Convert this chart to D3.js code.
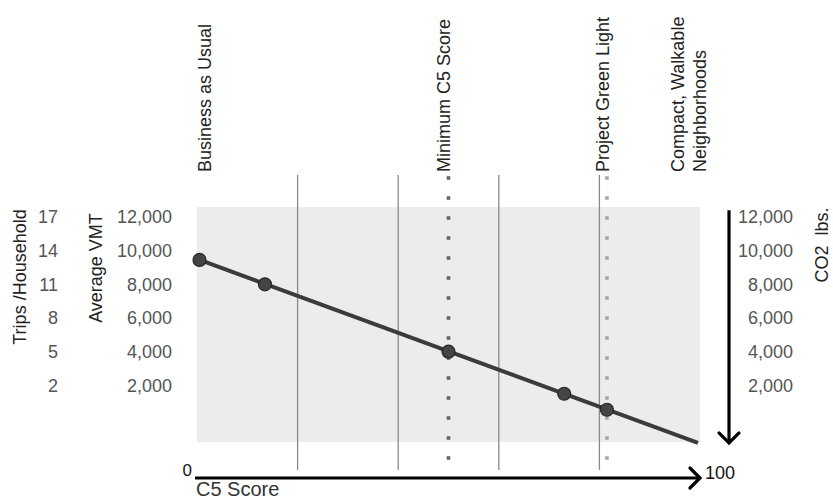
<!DOCTYPE html>
<html><head><meta charset="utf-8">
<script src="https://cdn.jsdelivr.net/npm/d3@7"></script>
<style>
html,body{margin:0;padding:0;background:#fff;}
svg{display:block;font-family:"Liberation Sans",Arial,sans-serif;}
</style></head>
<body>
<svg id="c" width="833" height="501"></svg>
<script>
// ---- data ----
const vmtTicks = [12000, 10000, 8000, 6000, 4000, 2000];
const tripTicks = [17, 14, 11, 8, 5, 2];
const co2Ticks = [12000, 10000, 8000, 6000, 4000, 2000];
const pointC5 = [0.5, 13.5, 50, 73, 81.5];
const pointVMT = [9450, 8000, 4000, 1500, 550];
const lineC5 = [0.4, 99.6];
const lineVMT = [9470, -1420];
const gridC5 = [20, 40, 60, 80];
const markerC5 = [50, 81.5];
const markerShade = ["#666666", "#a8a8a8"];
const scenarioLabels = [["Business as Usual"], ["Minimum C5 Score"], ["Project Green Light"], ["Compact, Walkable", "Neighborhoods"]];
const scenarioC5 = [1.5, 49, 80.7, 95.5];

// ---- scales ----
const svg = d3.select("#c");
const x = d3.scaleLinear().domain([0, 100]).range([197, 700]);
const y = d3.scaleLinear().domain([0, 12000]).range([419, 217]);
const yTrips = d3.scaleLinear().domain([-1, 17]).range([419, 217]);

// plot background
svg.append("rect").attr("x", x(0)).attr("y", y(12600))
  .attr("width", x(100) - x(0)).attr("height", y(-1370) - y(12600))
  .attr("fill", "#ececec");

// solid vertical lines
svg.selectAll("line.grid").data(gridC5).join("line").attr("class", "grid")
  .attr("x1", d => x(d)).attr("x2", d => x(d))
  .attr("y1", 175).attr("y2", 470)
  .attr("stroke", "#8a8a8a").attr("stroke-width", 1.3);

// dotted marker lines
markerC5.forEach((c, i) => {
  const dots = d3.range(15).map(k => 178 + k * 20);
  svg.append("g").selectAll("rect").data(dots).join("rect")
    .attr("x", x(c) - 1.8).attr("y", d => d - 1.8)
    .attr("width", 3.6).attr("height", 3.6)
    .attr("fill", markerShade[i]);
});

// trend line
const lineData = lineC5.map((c, i) => [c, lineVMT[i]]);
svg.append("path").datum(lineData)
  .attr("d", d3.line().x(d => x(d[0])).y(d => y(d[1])))
  .attr("fill", "none").attr("stroke", "#3b3b3b").attr("stroke-width", 4);

// points
svg.selectAll("circle.pt").data(pointC5.map((c, i) => [c, pointVMT[i]])).join("circle")
  .attr("class", "pt")
  .attr("cx", d => x(d[0])).attr("cy", d => y(d[1])).attr("r", 6.5)
  .attr("fill", "#454545").attr("stroke", "#262626").attr("stroke-width", 1.2);

// axes labels (no lines)
function styleAxis(g) {
  g.select(".domain").remove();
  g.selectAll(".tick line").remove();
  g.selectAll("text").attr("font-size", 18).attr("fill", "#555")
    .attr("font-family", "Liberation Sans, Arial, sans-serif");
}
svg.append("g").attr("transform", "translate(175,0)")
  .call(d3.axisLeft(y).tickValues(vmtTicks).tickSize(0).tickPadding(3).tickFormat(d3.format(",")))
  .call(styleAxis);
svg.append("g").attr("transform", "translate(61,0)")
  .call(d3.axisLeft(yTrips).tickValues(tripTicks).tickSize(0).tickPadding(3).tickFormat(d3.format("d")))
  .call(styleAxis);
svg.append("g").attr("transform", "translate(796,0)")
  .call(d3.axisLeft(y).tickValues(co2Ticks).tickSize(0).tickPadding(3).tickFormat(d3.format(",")))
  .call(styleAxis);

// axis titles
function vTitle(txt, cx, cy) {
  svg.append("text").attr("transform", `translate(${cx},${cy}) rotate(-90)`)
    .attr("text-anchor", "middle").attr("dy", "0.35em")
    .attr("font-size", 18).attr("fill", "#222").style("white-space", "pre").text(txt);
}
vTitle("Trips /Household", 20, 277);
vTitle("Average VMT", 96, 268);
vTitle("CO2  lbs.", 822, 245);

// scenario labels (rotated, reading upward, bottom end at y=172)
scenarioLabels.forEach((lines, i) => {
  const t = svg.append("text")
    .attr("transform", `translate(${x(scenarioC5[i])},172) rotate(-90)`)
    .attr("text-anchor", "start").attr("font-size", 18).attr("fill", "#222");
  lines.forEach((l, j) => {
    t.append("tspan").attr("x", 0).attr("dy", j === 0 ? "0.35em" : "1.25em").text(l);
  });
});

// bottom arrow axis
const ay = 478;
svg.append("line").attr("x1", x(0) - 2).attr("x2", x(100)).attr("y1", ay).attr("y2", ay)
  .attr("stroke", "#000").attr("stroke-width", 3.2);
svg.append("path").attr("d", `M${x(100) - 10},${ay - 10}L${x(100)},${ay}L${x(100) - 10},${ay + 10}`)
  .attr("fill", "none").attr("stroke", "#000").attr("stroke-width", 3.2).attr("stroke-linecap", "round");
svg.append("text").attr("x", x(0) - 5).attr("y", 476).attr("text-anchor", "end")
  .attr("font-size", 17).attr("fill", "#111").text("0");
svg.append("text").attr("x", x(100) + 5).attr("y", 479)
  .attr("font-size", 18).attr("fill", "#111").text("100");
svg.append("text").attr("x", x(0) - 1).attr("y", 496)
  .attr("font-size", 20).attr("fill", "#333").text("C5 Score");

// right vertical arrow
const ax = 729;
svg.append("line").attr("x1", ax).attr("x2", ax).attr("y1", y(12400)).attr("y2", y(-1420))
  .attr("stroke", "#000").attr("stroke-width", 3.2);
svg.append("path").attr("d", `M${ax - 10},${y(-1420) - 10}L${ax},${y(-1420)}L${ax + 10},${y(-1420) - 10}`)
  .attr("fill", "none").attr("stroke", "#000").attr("stroke-width", 3.2).attr("stroke-linecap", "round");
</script>
</body></html>
